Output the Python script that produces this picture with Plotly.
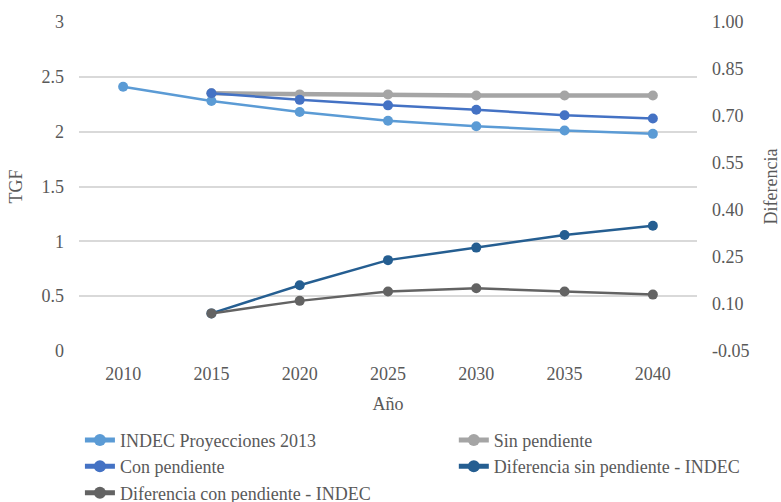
import plotly.graph_objects as go

years = ["2010", "2015", "2020", "2025", "2030", "2035", "2040"]

indec_2013 = [2.41, 2.28, 2.18, 2.10, 2.05, 2.01, 1.98]
sin_pendiente = [None, 2.35, 2.34, 2.34, 2.33, 2.33, 2.33]
con_pendiente = [None, 2.35, 2.29, 2.24, 2.20, 2.15, 2.12]
dif_sin_indec = [None, 0.07, 0.16, 0.24, 0.28, 0.32, 0.35]
dif_con_indec = [None, 0.07, 0.11, 0.14, 0.15, 0.14, 0.13]

left_ticks = [0, 0.5, 1, 1.5, 2, 2.5, 3]
left_tick_text = ["0", "0.5", "1", "1.5", "2", "2.5", "3"]
right_ticks = [-0.05, 0.10, 0.25, 0.40, 0.55, 0.70, 0.85, 1.00]
right_tick_text = ["-0.05", "0.10", "0.25", "0.40", "0.55", "0.70", "0.85", "1.00"]

FONT = "Times New Roman, Liberation Serif, serif"
TXT = "#595959"
GRID = "#D9D9D9"
FS = 18

fig = go.Figure()


def add_series(name, values, color, width, axis="y", legend="legend"):
    fig.add_trace(go.Scatter(
        x=years, y=values, name=name, mode="lines+markers",
        line=dict(color=color, width=width),
        marker=dict(color=color, size=10),
        yaxis=axis, legend=legend, connectgaps=False,
    ))


add_series("INDEC Proyecciones 2013", indec_2013, "#5B9BD5", 2.5)
add_series("Sin pendiente", sin_pendiente, "#A5A5A5", 4.5, legend="legend2")
add_series("Con pendiente", con_pendiente, "#4472C4", 2.5)
add_series("Diferencia sin pendiente - INDEC", dif_sin_indec, "#255E91", 2.5, "y2", "legend2")
add_series("Diferencia con pendiente - INDEC", dif_con_indec, "#636363", 2.5, "y2")

legend_style = dict(
    orientation="v", yanchor="top", xanchor="left",
    font=dict(family=FONT, size=FS, color=TXT),
    tracegroupgap=0, itemsizing="constant",
    bgcolor="rgba(0,0,0,0)", borderwidth=0,
)

fig.update_layout(
    width=781, height=502,
    margin=dict(l=79, r=84, t=22, b=151, autoexpand=False),
    paper_bgcolor="white", plot_bgcolor="white",
    font=dict(family=FONT, size=FS, color=TXT),
    showlegend=True,
    legend=dict(x=0.0015, y=-0.215, **legend_style),
    legend2=dict(x=0.6065, y=-0.215, **legend_style),
    xaxis=dict(
        type="category", range=[-0.5, 6.5],
        showgrid=False, zeroline=False, showline=False,
        ticks="", ticklabelstandoff=10,
        tickfont=dict(family=FONT, size=FS, color=TXT),
        title=dict(text="Año", font=dict(family=FONT, size=FS, color=TXT), standoff=14),
    ),
    yaxis=dict(
        range=[0, 3], tickvals=left_ticks, ticktext=left_tick_text,
        showgrid=True, gridcolor=GRID, gridwidth=1.5,
        zeroline=False, showline=False, ticks="", ticklabelstandoff=14,
        tickfont=dict(family=FONT, size=FS, color=TXT),
        title=dict(text="TGF", font=dict(family=FONT, size=FS, color=TXT), standoff=14),
    ),
    yaxis2=dict(
        overlaying="y", side="right",
        range=[-0.05, 1.00], tickvals=right_ticks, ticktext=right_tick_text,
        showgrid=False, zeroline=False, showline=False, ticks="", ticklabelstandoff=14,
        tickfont=dict(family=FONT, size=FS, color=TXT),
        title=dict(text="Diferencia", font=dict(family=FONT, size=FS, color=TXT), standoff=16),
    ),
)

fig.write_html("out.html")
